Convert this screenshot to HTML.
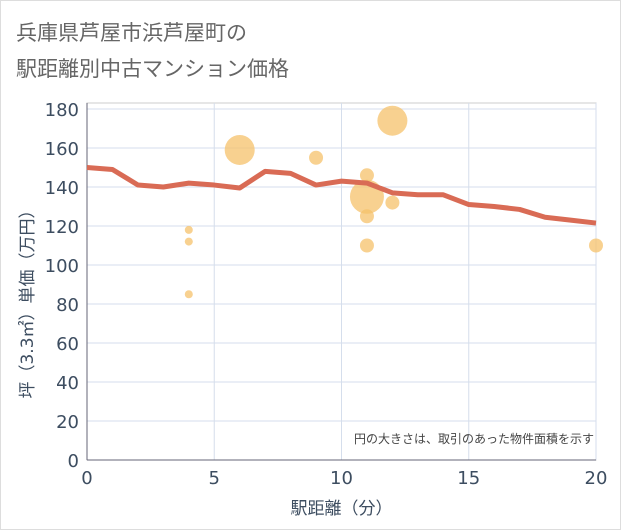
<!DOCTYPE html>
<html><head><meta charset="utf-8"><style>
body{margin:0;background:#fff;font-family:"DejaVu Sans","Noto Sans CJK JP",sans-serif;}
#wrap{position:relative;width:621px;height:530px;box-sizing:border-box;border:1px solid #ddd;}
svg text{font-family:"DejaVu Sans","Noto Sans CJK JP",sans-serif;}
</style></head><body>
<div id="wrap">
<svg id="chart" width="621" height="530" style="position:absolute;left:-1px;top:-1px"></svg>
</div>
<script>
const lineX=[0,1,2,3,4,5,6,7,8,9,10,11,12,13,14,15,16,17,18,19,20];
const lineY=[150,149,141,140,142,141,139.5,148,147,141,143,142,137,136,136,131,130,128.5,124.5,123,121.5];
const bubX=[4,4,4,6,9,11,11,11,11,12,12,20];
const bubY=[118,112,85,159,155,146,135,125,110,174,132,110];
const bubR=[4,4,4,15,7,7,17,7,7,15,7,7];
const xTicks=[0,5,10,15,20];
const yTicks=[0,20,40,60,80,100,120,140,160,180];
const NS="http://www.w3.org/2000/svg";
const svg=document.getElementById('chart');
const X0=87,X1=596,Y0=460,Y180=109;
const sx=v=>X0+(X1-X0)*v/20, sy=v=>Y0-(Y0-Y180)*v/180;
function el(t,a,txt){const e=document.createElementNS(NS,t);for(const k in a)e.setAttribute(k,a[k]);if(txt!==undefined)e.textContent=txt;svg.appendChild(e);return e;}
let e;
e=el('text',{x:16,y:40,'font-size':21,fill:'#666'},'兵庫県芦屋市浜芦屋町の');

e=el('text',{x:16,y:76,'font-size':21,fill:'#666'},'駅距離別中古マンション価格');

e=el('rect',{x:X0,y:103,width:X1-X0,height:Y0-103,fill:'none',stroke:'#ccc'});

yTicks.forEach(v=>{
 e=el('line',{x1:X0,x2:X1,y1:sy(v),y2:sy(v),stroke:'#d5deec','stroke-width':1});
 
 e=el('text',{x:X0-8,y:sy(v)+7,'font-size':18,fill:'#3d4d60','text-anchor':'end'},v);
 
});
xTicks.forEach(v=>{
 e=el('line',{x1:sx(v),x2:sx(v),y1:103,y2:Y0,stroke:'#d5deec','stroke-width':1});
 
 e=el('text',{x:sx(v),y:Y0+24,'font-size':18,fill:'#3d4d60','text-anchor':'middle'},v);
 
});
e=el('line',{x1:X0,x2:X0,y1:103,y2:Y0,stroke:'#667','stroke-width':1});

e=el('line',{x1:X0,x2:X1,y1:Y0,y2:Y0,stroke:'#667','stroke-width':1});

bubX.forEach((v,i)=>{
 e=el('circle',{cx:sx(v),cy:sy(bubY[i]),r:bubR[i],fill:'#f5c26b','fill-opacity':0.75});
 
});
e=el('polyline',{points:lineX.map((v,i)=>sx(v)+','+sy(lineY[i])).join(' '),fill:'none',stroke:'#d96b55','stroke-width':5,'stroke-linejoin':'round'});

e=el('text',{x:594,y:443,'font-size':12,fill:'#444','text-anchor':'end'},'円の大きさは、取引のあった物件面積を示す');

e=el('text',{x:sx(10),y:514,'font-size':17,fill:'#3d4d60','text-anchor':'middle'},'駅距離（分）');

e=el('text',{x:0,y:0,'font-size':17,fill:'#3d4d60','text-anchor':'middle',transform:'translate(33,300) rotate(-90)'},'坪（3.3㎡）単価（万円）');

</script>
</body></html>
